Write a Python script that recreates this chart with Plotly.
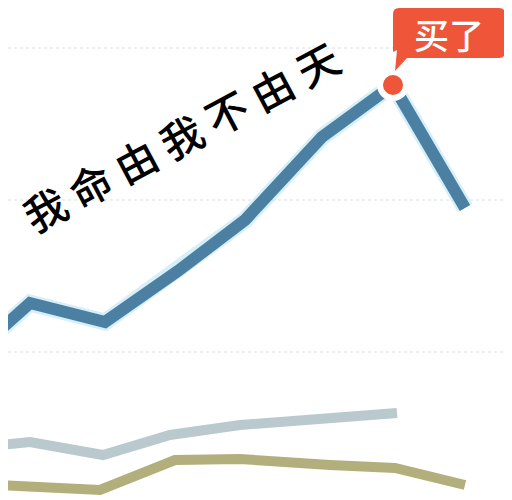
import plotly.graph_objects as go

# ---- dados ----
x_main = [0, 30, 105, 178, 245, 322, 393, 465]
y_main = [170, 197, 178, 229, 280, 363, 415, 292]

x_gray = [0, 30, 103, 170, 240, 330, 397]
y_gray = [55, 58, 45, 65, 75, 83, 87]

x_olive = [0, 100, 175, 240, 330, 395, 465]
y_olive = [15, 10, 40, 41, 35, 32, 15]

grid_vals = [148, 300, 452]

PEAK_IDX = 6
slogan = "我 命 由 我 不 由 天"
callout = "买了"

BLUE = "#4b80a2"
GRAY = "#b9c9cd"
OLIVE = "#b2af7c"
RED = "#ef5539"

# a página tem margem de 8px no body: compensamos nos ranges
OFF = 8

fig = go.Figure()

# halo claro em volta da linha azul
fig.add_trace(go.Scatter(x=x_main, y=y_main, mode="lines",
                         line=dict(color="rgba(180,225,242,0.55)", width=17),
                         hoverinfo="skip"))
fig.add_trace(go.Scatter(x=x_main, y=y_main, mode="lines",
                         line=dict(color=BLUE, width=12), hoverinfo="skip"))
fig.add_trace(go.Scatter(x=x_gray, y=y_gray, mode="lines",
                         line=dict(color=GRAY, width=10), hoverinfo="skip"))
fig.add_trace(go.Scatter(x=x_olive, y=y_olive, mode="lines",
                         line=dict(color=OLIVE, width=10), hoverinfo="skip"))

px, py = x_main[PEAK_IDX], y_main[PEAK_IDX]
fig.add_trace(go.Scatter(x=[px], y=[py], mode="markers",
                         marker=dict(size=26, color=RED,
                                     line=dict(color="white", width=6)),
                         hoverinfo="skip"))

# balão "买了"
l, r, b, t, rad = px, px + 112, py + 27, py + 77, 6
fig.add_shape(type="path", fillcolor=RED, line=dict(width=0),
              path=(f"M {l+rad},{b} L {l+14},{b} L {px+2},{py+14} L {l+4},{b+8} "
                    f"L {l},{b+rad} L {l},{t-rad} Q {l},{t} {l+rad},{t} "
                    f"L {r-rad},{t} Q {r},{t} {r},{t-rad} L {r},{b+rad} "
                    f"Q {r},{b} {r-rad},{b} Z"))
fig.add_annotation(x=(l + r) / 2, y=(b + t) / 2, text=callout, showarrow=False,
                   font=dict(size=35, color="white", family="Noto Sans CJK SC",
                             weight=500))

fig.add_annotation(x=180, y=365, text=slogan, showarrow=False, textangle=-28,
                   font=dict(size=42, color="black", family="Noto Sans CJK SC",
                             weight=500))

fig.update_layout(
    width=512, height=500,
    margin=dict(l=0, r=0, t=0, b=0),
    paper_bgcolor="white", plot_bgcolor="white",
    showlegend=False,
)
fig.update_xaxes(range=[OFF, 512 + OFF], visible=False)
fig.update_yaxes(range=[-OFF, 500 - OFF], tickvals=grid_vals, showticklabels=False,
                 showgrid=True, gridcolor="#eceff1", griddash="dot",
                 gridwidth=2, zeroline=False, showline=False)

fig.write_html("out.html")
